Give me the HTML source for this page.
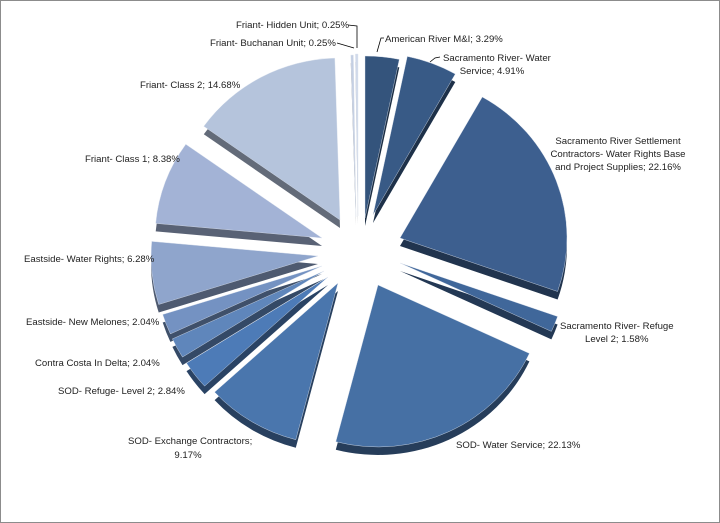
<!DOCTYPE html>
<html><head><meta charset="utf-8"><style>
html,body{margin:0;padding:0;background:#fff}
#w{position:relative;width:718px;height:521px;border:1px solid #8c8c8c;overflow:hidden}
svg{position:absolute;left:0;top:0}
text{font-family:"Liberation Sans",sans-serif;font-size:9.6px;fill:#222}
</style></head><body><div id="w">
<svg id="s" width="718" height="521" viewBox="1 1 718 521">
<g id="pie"></g>
<g fill="none" stroke="#000" stroke-width="0.8">
<polyline points="348,25 357,26 357,48"/>
<polyline points="337,43 354,48"/>
<polyline points="384,38 381,38 377,52"/>
<polyline points="440,57 435,58 430,62"/>
</g>
<text x="236" y="28">Friant- Hidden Unit; 0.25%</text>
<text x="210" y="46">Friant- Buchanan Unit; 0.25%</text>
<text x="385" y="42">American River M&amp;I; 3.29%</text>
<text x="443" y="61">Sacramento River- Water</text>
<text x="492" y="74" text-anchor="middle">Service; 4.91%</text>
<text x="140" y="88">Friant- Class 2; 14.68%</text>
<text x="618" y="144" text-anchor="middle">Sacramento River Settlement</text>
<text x="618" y="157" text-anchor="middle">Contractors- Water Rights Base</text>
<text x="618" y="170" text-anchor="middle">and Project Supplies; 22.16%</text>
<text x="85" y="162">Friant- Class 1; 8.38%</text>
<text x="24" y="262">Eastside- Water Rights; 6.28%</text>
<text x="26" y="325">Eastside- New Melones; 2.04%</text>
<text x="35" y="366">Contra Costa In Delta; 2.04%</text>
<text x="58" y="394">SOD- Refuge- Level 2; 2.84%</text>
<text x="560" y="329">Sacramento River- Refuge</text>
<text x="585" y="342">Level 2; 1.58%</text>
<text x="128" y="444">SOD- Exchange Contractors;</text>
<text x="188" y="458" text-anchor="middle">9.17%</text>
<text x="456" y="448">SOD- Water Service; 22.13%</text>
</svg></div>
<script>
var S=[
[3.29,365,218,"#34547c"],[4.91,373,215,"#385a86"],[22.16,400,238,"#3d5f8f"],[1.58,400,263,"#40679a"],
[22.13,378,285,"#4670a4"],[9.17,338,283,"#4a76ad"],[2.84,328,277,"#4d7bb7"],[2.04,324,271,"#5f86bb"],
[2.04,322,266,"#7492c2"],[6.28,318,256,"#8fa5cc"],[8.38,322,238,"#a3b3d6"],[14.68,340,220,"#b5c4dc"],
[0.25,356,217,"#c4cfe3"],[0.25,358,216,"#d0d9ea"]];
var rx=167,ry=162,ang=0,g=document.getElementById('pie'),tops='',sides='';
function dk(c,f){var n=parseInt(c.slice(1),16),r=(n>>16)*f|0,G=((n>>8)&255)*f|0,b=(n&255)*f|0;return 'rgb('+r+','+G+','+b+')';}
function path(cx,cy,a0,a1){var t0=a0*Math.PI/180,t1=a1*Math.PI/180;
var x0=cx+rx*Math.sin(t0),y0=cy-ry*Math.cos(t0),x1=cx+rx*Math.sin(t1),y1=cy-ry*Math.cos(t1);
return 'M'+cx+','+cy+'L'+x0.toFixed(1)+','+y0.toFixed(1)+'A'+rx+','+ry+' 0 '+((a1-a0)>180?1:0)+' 1 '+x1.toFixed(1)+','+y1.toFixed(1)+'Z';}
S.forEach(function(s){var a1=ang+s[0]*3.6;
sides+='<path d="'+path(s[1],s[2]+8,ang,a1)+'" fill="'+dk(s[3],0.55)+'"/>';
tops+='<path d="'+path(s[1],s[2],ang,a1)+'" fill="'+s[3]+'" stroke="#dfe6f0" stroke-width="0.4"/>';ang=a1;});
g.innerHTML=sides+tops;
</script></body></html>
